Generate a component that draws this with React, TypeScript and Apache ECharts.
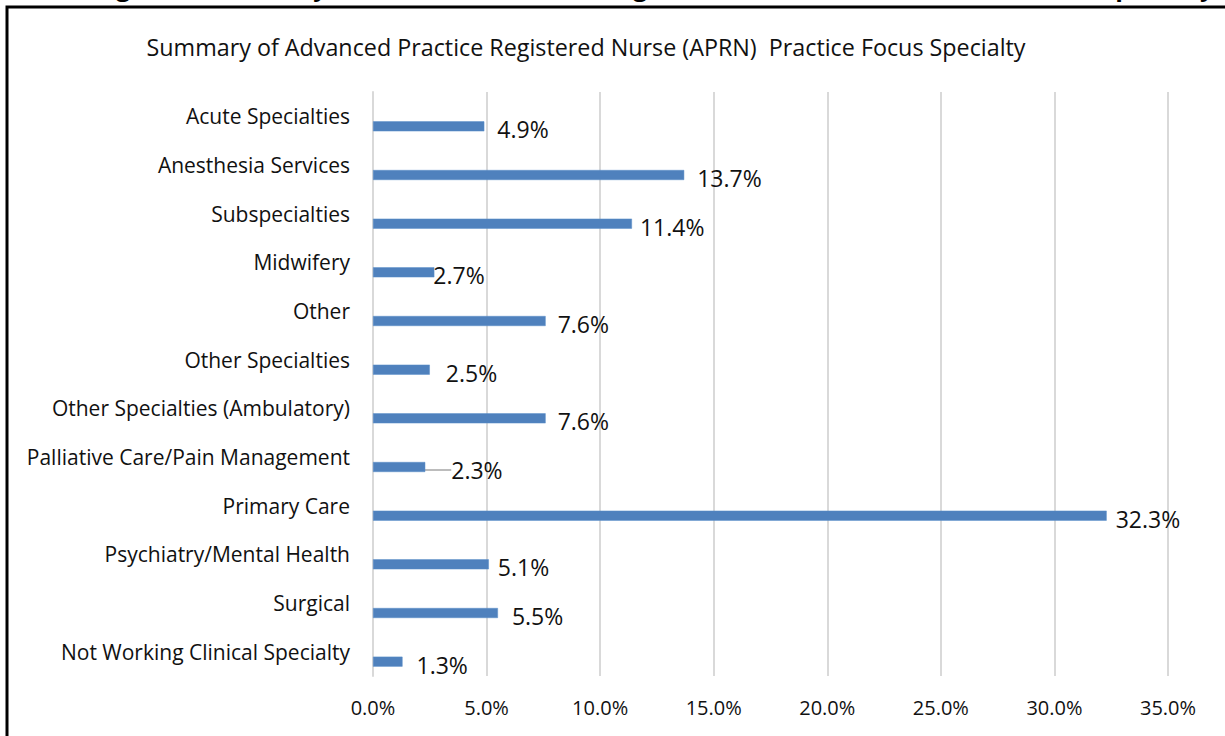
import React, { useEffect, useRef } from "react";
import * as echarts from "echarts";

const categories = [
  "Acute Specialties",
  "Anesthesia Services",
  "Subspecialties",
  "Midwifery",
  "Other",
  "Other Specialties",
  "Other Specialties (Ambulatory)",
  "Palliative Care/Pain Management",
  "Primary Care",
  "Psychiatry/Mental Health",
  "Surgical",
  "Not Working Clinical Specialty",
];
const shares = [4.9, 13.7, 11.4, 2.7, 7.6, 2.5, 7.6, 2.3, 32.3, 5.1, 5.5, 1.3];
const emptyShares = [null, null, null, null, null, null, null, null, null, null, null, null];
const xTicks = [0, 5, 10, 15, 20, 25, 30, 35];

const chartTitle = "Summary of Advanced Practice Registered Nurse (APRN)  Practice Focus Specialty";
const figureTitle = "Figure 9: Summary of Advanced Practice Registered Nurse (APRN) Practice Focus Specialty";

// label horizontal nudges (px) beyond the bar end, mimicking manual placement
const labelNudge = [13, 13, 8, -1, 12, 16, 12, 26, 9, 9, 14, 14];

const FONT = "'Open Sans', 'Noto Sans', sans-serif";

export default function App() {
  const ref = useRef<HTMLDivElement>(null);
  useEffect(() => {
    if (!ref.current) return;
    const chart = echarts.init(ref.current, undefined, { renderer: "svg" });
    chart.setOption({
      animation: false,
      backgroundColor: "#ffffff",
      textStyle: { fontFamily: FONT },
      title: {
        text: chartTitle,
        left: 581,
        top: 30,
        textAlign: "center",
        textStyle: { fontFamily: FONT, fontSize: 23.3, fontWeight: "normal", color: "#111" },
      },
      graphic: [
        {
          type: "rect",
          shape: { x: 7, y: 7, width: 1240, height: 760 },
          style: { fill: "none", stroke: "#000", lineWidth: 3 },
          z: 10,
        },
        {
          type: "text",
          x: 95,
          y: -27,
          style: {
            text: figureTitle,
            font: "bold 25px " + FONT,
            fill: "#000",
          },
          z: 10,
        },
      ],
      grid: { left: 373, right: 57, top: 92, bottom: 60, containLabel: false },
      xAxis: {
        type: "value",
        min: 0,
        max: 35,
        interval: 5,
        axisLine: { show: false },
        axisTick: { show: false },
        splitLine: { show: true, lineStyle: { color: "#d9d9d9", width: 2 } },
        axisLabel: {
          margin: 21,
          fontSize: 20,
          color: "#111",
          formatter: (v: number) => (xTicks.includes(v) ? v.toFixed(1) + "%" : ""),
        },
      },
      yAxis: {
        type: "category",
        data: categories,
        inverse: true,
        axisLine: { show: true, lineStyle: { color: "#d9d9d9", width: 2 } },
        axisTick: { show: false },
        axisLabel: { margin: 23, fontSize: 21, color: "#111" },
      },
      series: [
        {
          type: "bar",
          name: "blank",
          data: emptyShares,
          barWidth: 10,
          barGap: "100%",
          itemStyle: { color: "#4f81bd" },
        },
        {
          type: "bar",
          name: "Share",
          data: shares.map((v, i) =>
            i === 7
              ? { value: v, labelLine: { show: true, lineStyle: { color: "#a6a6a6", width: 1.5 } } }
              : v
          ),
          barWidth: 10,
          barGap: "100%",
          itemStyle: { color: "#4f81bd", borderColor: "#5b8ec9", borderWidth: 0.5 },
          label: {
            show: true,
            position: "right",
            distance: 0,
            fontSize: 23,
            color: "#111",
            formatter: (p: any) => Number(p.value).toFixed(1) + "%",
          },
          labelLine: { show: false },
          labelLayout: (p: any) => ({ dx: labelNudge[p.dataIndex], dy: 3 }),
        },
      ],
    });
    return () => chart.dispose();
  }, []);
  return (
    <div
      ref={ref}
      style={{ position: "absolute", left: 0, top: 0, width: 1225, height: 736, background: "#fff" }}
    />
  );
}
